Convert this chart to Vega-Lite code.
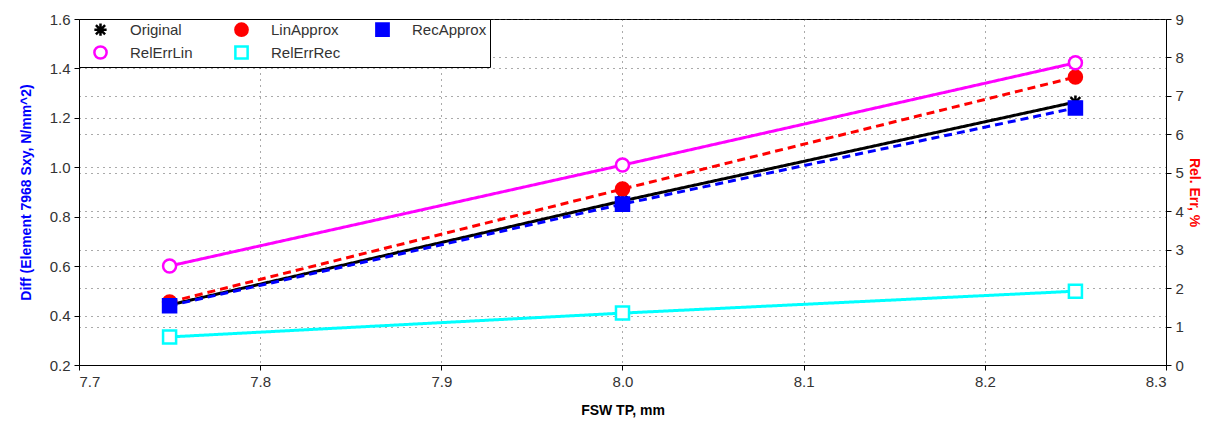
{
  "$schema": "https://vega.github.io/schema/vega-lite/v6.json",
  "autosize": "none",
  "width": 1087,
  "height": 346,
  "padding": {"left": 79, "top": 19, "right": 39, "bottom": 60},
  "background": "white",
  "config": {
    "font": "Liberation Sans",
    "view": {"stroke": "black", "strokeWidth": 1},
    "axis": {
      "domainColor": "black",
      "tickColor": "black",
      "labelColor": "#333333",
      "labelFontSize": 15,
      "labelFont": "Liberation Sans",
      "titleFont": "Liberation Sans",
      "titleFontSize": 14,
      "titleFontWeight": "bold",
      "gridColor": "#444444",
      "gridDash": [1, 5],
      "gridOpacity": 0.9,
      "tickSize": 5
    },
    "legend": {
      "labelFont": "Liberation Sans",
      "labelFontSize": 15,
      "labelColor": "#333333"
    }
  },
  "data": {
    "values": [
      {"x": 7.75, "value": 0.443, "series": "Original", "axis": "left"},
      {"x": 8.0, "value": 0.864, "series": "Original", "axis": "left"},
      {"x": 8.25, "value": 1.264, "series": "Original", "axis": "left"},
      {"x": 7.75, "value": 0.455, "series": "LinApprox", "axis": "left"},
      {"x": 8.0, "value": 0.912, "series": "LinApprox", "axis": "left"},
      {"x": 8.25, "value": 1.365, "series": "LinApprox", "axis": "left"},
      {"x": 7.75, "value": 0.44, "series": "RecApprox", "axis": "left"},
      {"x": 8.0, "value": 0.851, "series": "RecApprox", "axis": "left"},
      {"x": 8.25, "value": 1.24, "series": "RecApprox", "axis": "left"},
      {"x": 7.75, "value": 2.575, "series": "RelErrLin", "axis": "right"},
      {"x": 8.0, "value": 5.2, "series": "RelErrLin", "axis": "right"},
      {"x": 8.25, "value": 7.86, "series": "RelErrLin", "axis": "right"},
      {"x": 7.75, "value": 0.73, "series": "RelErrRec", "axis": "right"},
      {"x": 8.0, "value": 1.35, "series": "RelErrRec", "axis": "right"},
      {"x": 8.25, "value": 1.92, "series": "RelErrRec", "axis": "right"}
    ]
  },
  "encoding": {
    "x": {
      "field": "x",
      "type": "quantitative",
      "scale": {"domain": [7.7, 8.3], "nice": false, "zero": false},
      "axis": {
        "title": "FSW TP, mm",
        "values": [7.7, 7.8, 7.9, 8.0, 8.1, 8.2, 8.3],
        "format": ".1f",
        "grid": true,
        "titlePadding": 14,
        "labelPadding": 4
      }
    }
  },
  "layer": [
    {
      "transform": [{"filter": "datum.axis === 'left'"}],
      "encoding": {
        "y": {
          "field": "value",
          "type": "quantitative",
          "scale": {"domain": [0.2, 1.6], "nice": false, "zero": false},
          "axis": {
            "title": "Diff (Element 7968 Sxy, N/mm^2)",
            "titleColor": "#0000ff",
            "values": [0.2, 0.4, 0.6, 0.8, 1.0, 1.2, 1.4, 1.6],
            "format": ".1f",
            "grid": true,
            "titlePadding": 16,
            "labelPadding": 4
          }
        }
      },
      "layer": [
        {
          "mark": {"type": "line", "strokeWidth": 3},
          "encoding": {
            "stroke": {"field": "series", "type": "nominal",
              "scale": {"domain": ["Original", "LinApprox", "RecApprox", "RelErrLin", "RelErrRec"], "range": ["#000000", "#ff0000", "#0000ff", "#ff00ff", "#00ffff"]}},
            "strokeDash": {"condition": {"test": "datum.series === 'LinApprox' || datum.series === 'RecApprox'", "value": [8, 5]}, "value": [1, 0]}
          }
        },
        {
          "mark": {"type": "point", "filled": false, "size": 170, "strokeWidth": 2.5, "opacity": 1},
          "encoding": {
            "shape": {"field": "series", "type": "nominal",
              "scale": {"domain": ["Original", "LinApprox", "RecApprox", "RelErrLin", "RelErrRec"], "range": ["M-1,0L1,0M0,-1L0,1M-0.75,-0.75L0.75,0.75M-0.75,0.75L0.75,-0.75", "circle", "square", "circle", "square"]},
              "legend": {"title": null, "orient": "top-left", "offset": 0, "columns": 3, "direction": "horizontal", "gridAlign": "all", "strokeColor": "black", "fillColor": "white", "padding": 3, "columnPadding": 18, "rowPadding": 0, "symbolSize": 150, "symbolStrokeWidth": 2.5, "symbolOffset": 11, "labelOffset": 22, "cornerRadius": 0}},
            "stroke": {"field": "series", "type": "nominal"},
            "fill": {"field": "series", "type": "nominal",
              "scale": {"domain": ["Original", "LinApprox", "RecApprox", "RelErrLin", "RelErrRec"], "range": ["#000000", "#ff0000", "#0000ff", "#ffffff", "#ffffff"]}}
          }
        }
      ]
    },
    {
      "transform": [{"filter": "datum.axis === 'right'"}],
      "encoding": {
        "y": {
          "field": "value",
          "type": "quantitative",
          "scale": {"domain": [0, 9], "nice": false, "zero": false},
          "axis": {
            "orient": "right",
            "title": "Rel. Err, %",
            "titleColor": "#ff0000",
            "values": [0, 1, 2, 3, 4, 5, 6, 7, 8, 9],
            "grid": true,
            "titlePadding": 3,
            "labelPadding": 4
          }
        }
      },
      "layer": [
        {
          "mark": {"type": "line", "strokeWidth": 3},
          "encoding": {
            "stroke": {"field": "series", "type": "nominal"},
            "strokeDash": {"value": [1, 0]}
          }
        },
        {
          "mark": {"type": "point", "filled": false, "size": 170, "strokeWidth": 2.5, "opacity": 1},
          "encoding": {
            "shape": {"field": "series", "type": "nominal"},
            "stroke": {"field": "series", "type": "nominal"},
            "fill": {"field": "series", "type": "nominal"}
          }
        }
      ]
    }
  ],
  "resolve": {"scale": {"y": "independent"}}
}
